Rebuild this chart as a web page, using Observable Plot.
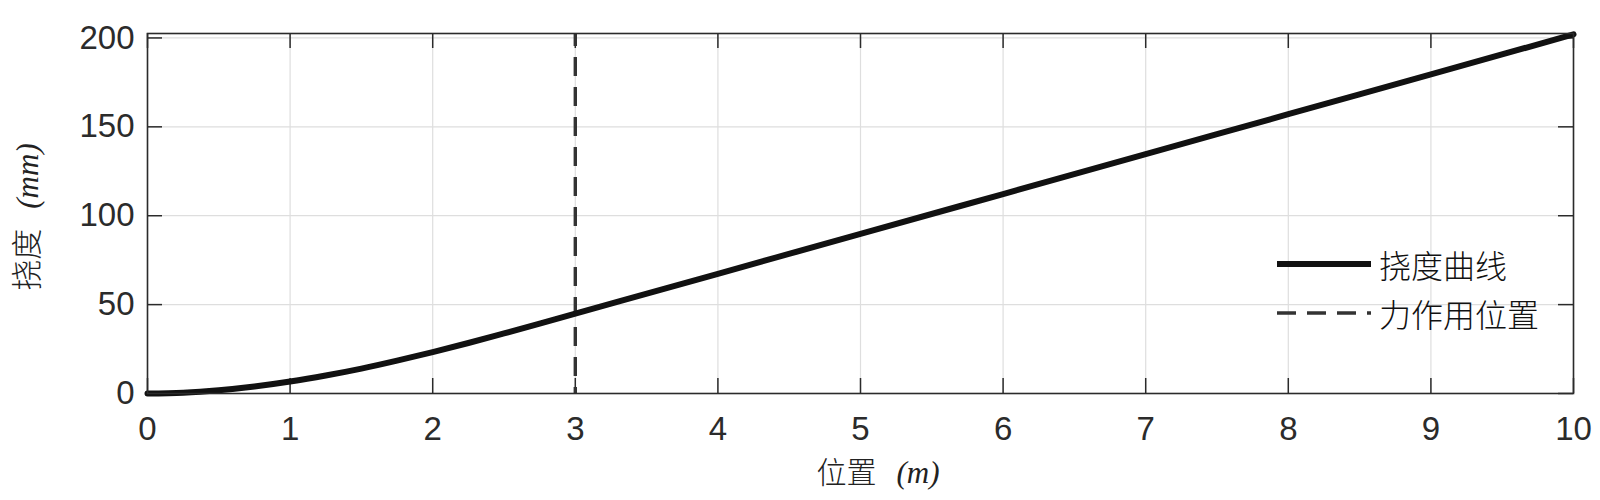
<!DOCTYPE html>
<html>
<head>
<meta charset="utf-8">
<script src="https://cdn.jsdelivr.net/npm/d3@7"></script>
<script src="https://cdn.jsdelivr.net/npm/@observablehq/plot@0.6"></script>
<style>
  html, body { margin: 0; padding: 0; background: #fff; }
  #wrap { position: relative; width: 1600px; height: 500px; overflow: hidden; }
  .legend { position: absolute; left: 1277px; top: 239px; font-family: "Noto Sans CJK SC", sans-serif; font-weight: 300; font-size: 32px; color: #111; }
  .legend .row { display: flex; align-items: center; height: 49px; }
  .legend svg { margin-right: 8px; }
</style>
</head>
<body>
<div id="wrap"></div>
<script>
// Positions along the beam (m)
const positions = [0, 0.25, 0.5, 0.75, 1, 1.25, 1.5, 1.75, 2, 2.25, 2.5, 2.75, 3, 4, 5, 6, 7, 8, 9, 10];
// Deflection (mm)
const deflection = [0, 0.45, 1.8, 3.9, 6.7, 10.1, 14.0, 18.5, 23.3, 28.4, 33.8, 39.3, 44.9, 67.3, 89.8, 112.2, 134.6, 157.1, 179.5, 202.0];
// Force location (m)
const forcePosition = [3];
// Tick labels
const xTicks = [0, 1, 2, 3, 4, 5, 6, 7, 8, 9, 10];
const yTicks = [0, 50, 100, 150, 200];
const seriesNames = ["挠度曲线", "力作用位置"];
const xLabelCn = "位置", xLabelUnit = "(m)";
const yLabelCn = "挠度", yLabelUnit = "(mm)";

const data = positions.map((x, i) => ({x, y: deflection[i]}));

const W = 1600, H = 500;
const mt = 33, mb = 107, ml = 147, mr = 27;
const ph = H - mt - mb, pw = W - ml - mr;
const axisColor = "#2b2b2b";
const font = "'Liberation Sans', Arial, sans-serif";

const chart = Plot.plot({
  width: W, height: H,
  marginTop: mt, marginBottom: mb, marginLeft: ml, marginRight: mr,
  style: {fontFamily: font, color: axisColor, background: "#fff"},
  x: {domain: [0, 10]},
  y: {domain: [0, 202.5]},
  marks: [
    Plot.gridX(xTicks, {stroke: "#dedede", strokeOpacity: 1, strokeWidth: 1.2}),
    Plot.gridY(yTicks, {stroke: "#dedede", strokeOpacity: 1, strokeWidth: 1.2}),
    // inward ticks
    Plot.ruleX(xTicks, {x: d => d, stroke: axisColor, strokeWidth: 1.5, insetTop: ph - 15}),
    Plot.ruleX(xTicks, {x: d => d, stroke: axisColor, strokeWidth: 1.5, insetBottom: ph - 15}),
    Plot.ruleY(yTicks, {y: d => d, stroke: axisColor, strokeWidth: 1.5, insetRight: pw - 15}),
    Plot.ruleY(yTicks, {y: d => d, stroke: axisColor, strokeWidth: 1.5, insetLeft: pw - 15}),
    Plot.axisX(xTicks, {tickSize: 0, tickPadding: 23, fontSize: 33, label: null, fill: axisColor, tickFormat: d => String(d)}),
    Plot.axisY(yTicks, {tickSize: 0, tickPadding: 13, fontSize: 33, label: null, fill: axisColor, tickFormat: d => String(d)}),
    Plot.ruleX(forcePosition, {x: d => d, stroke: "#333", strokeWidth: 3.4, strokeDasharray: "19,11", strokeDashoffset: 6}),
    Plot.line(data, {x: "x", y: "y", stroke: "#111", strokeWidth: 6, curve: "monotone-x"}),
    Plot.frame({stroke: axisColor, strokeWidth: 1.6})
  ]
});

const wrap = document.getElementById("wrap");
wrap.appendChild(chart);

// Axis titles
const svg = d3.select(chart);
const xt = svg.append("text")
  .attr("x", ml + pw / 2 + 18).attr("y", 483)
  .attr("text-anchor", "middle").attr("fill", "#222");
xt.append("tspan").attr("font-family", "'Noto Sans CJK SC', sans-serif").attr("font-weight", 300).attr("font-size", 30).text(xLabelCn);
xt.append("tspan").attr("dx", 20).attr("font-family", "'Liberation Serif', 'Times New Roman', serif").attr("font-style", "italic").attr("font-size", 31).text(xLabelUnit);

const yt = svg.append("text")
  .attr("transform", `translate(38, ${mt + ph / 2 + 4}) rotate(-90)`)
  .attr("text-anchor", "middle").attr("fill", "#222");
yt.append("tspan").attr("font-family", "'Noto Sans CJK SC', sans-serif").attr("font-weight", 300).attr("font-size", 31).text(yLabelCn);
yt.append("tspan").attr("dx", 20).attr("font-family", "'Liberation Serif', 'Times New Roman', serif").attr("font-style", "italic").attr("font-size", 31).text(yLabelUnit);

// Legend (inside plot area)
const legend = document.createElement("div");
legend.className = "legend";
const styles = [
  {dash: null, w: 6, c: "#111"},
  {dash: "19,11", w: 3.4, c: "#333"}
];
seriesNames.forEach((name, i) => {
  const row = document.createElement("div");
  row.className = "row";
  const s = styles[i];
  row.innerHTML = `<svg width="94" height="12"><line x1="0" y1="6" x2="94" y2="6" stroke="${s.c}" stroke-width="${s.w}" ${s.dash ? `stroke-dasharray="${s.dash}"` : ""}/></svg><span>${name}</span>`;
  legend.appendChild(row);
});
wrap.appendChild(legend);
</script>
</body>
</html>
